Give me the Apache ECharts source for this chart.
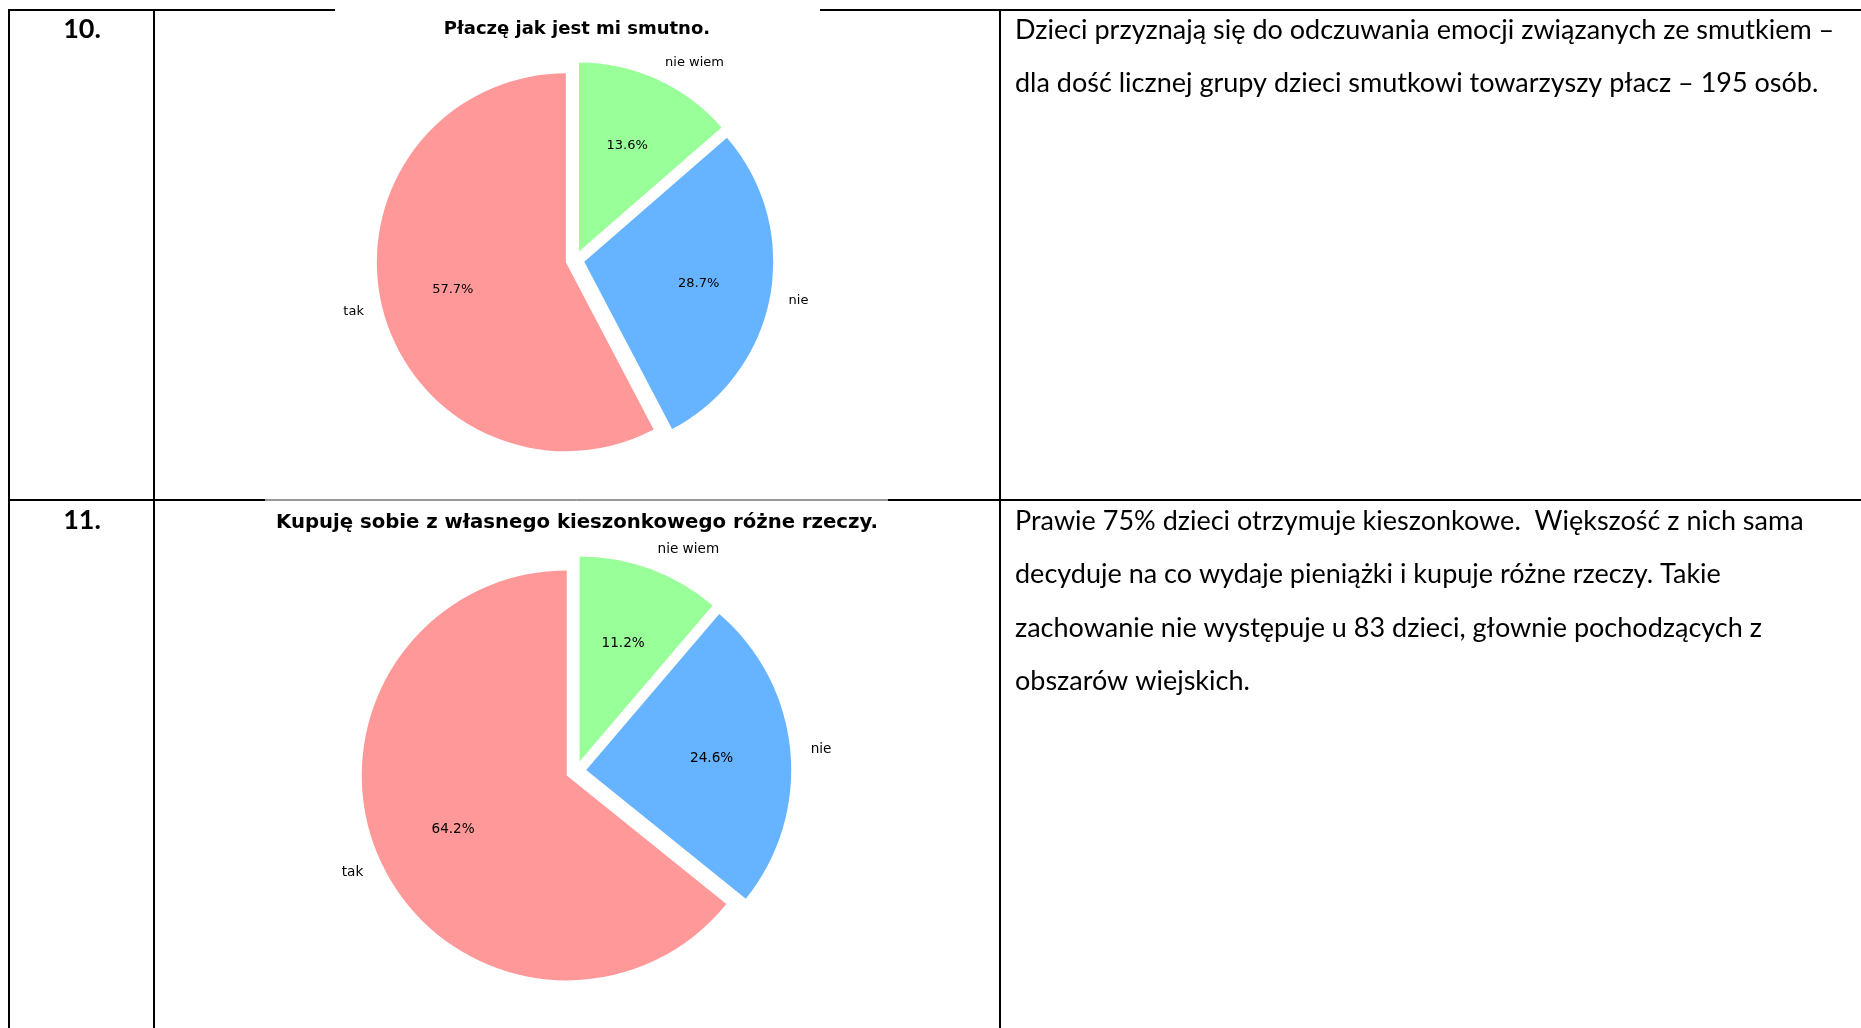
<!DOCTYPE html>
<html>
<head>
<meta charset="utf-8">
<script src="https://cdn.jsdelivr.net/npm/echarts@6/dist/echarts.min.js"></script>
<style>
html,body{margin:0;padding:0;background:#fff;}
#chart{width:1861px;height:1028px;}
</style>
</head>
<body>
<div id="chart"></div>
<script>
// ---- data ----
const categories = ['tak', 'nie', 'nie wiem'];
const colors = ['#ff9999', '#66b3ff', '#99ff99'];
const q10Counts = [195, 97, 46];
const q11Counts = [217, 83, 38];
const rowNumbers = ['10.', '11.'];
const chartTitles = ['Płaczę jak jest mi smutno.', 'Kupuję sobie z własnego kieszonkowego różne rzeczy.'];
const row1Text = [
  'Dzieci przyznają się do odczuwania emocji związanych ze smutkiem –',
  'dla dość licznej grupy dzieci smutkowi towarzyszy płacz – 195 osób.'
];
const row2Text = [
  'Prawie 75% dzieci otrzymuje kieszonkowe.  Większość z nich sama',
  'decyduje na co wydaje pieniążki i kupuje różne rzeczy. Takie',
  'zachowanie nie występuje u 83 dzieci, głownie pochodzących z',
  'obszarów wiejskich.'
];

// ---- layout ----
const EXPLODE = 0.05;
const pies = [
  {counts: q10Counts, center: [575, 260], r: 189, fs: 13, title: chartTitles[0], titleX: 572, titleY: 26, titleFs: 18},
  {counts: q11Counts, center: [576, 771], r: 205, fs: 13.6, title: chartTitles[1], titleX: 572, titleY: 520, titleFs: 19.7}
];

function makeData(counts) {
  return categories.map((c, i) => ({
    name: c, value: counts[i], selected: true,
    itemStyle: {color: colors[i]}
  }));
}

const series = [];
pies.forEach(p => {
  const common = {
    type: 'pie', center: p.center, startAngle: 90, clockwise: false,
    selectedMode: 'multiple', selectedOffset: p.r * EXPLODE,
    avoidLabelOverlap: false, silent: true, animation: false,
    emphasis: {disabled: true}, percentPrecision: 1
  };
  series.push(Object.assign({}, common, {
    radius: [0, p.r],
    data: makeData(p.counts),
    label: {show: true, position: 'outside', formatter: '{b}', fontFamily: 'DejaVu Sans',
            fontSize: p.fs, color: '#000', distanceToLabelLine: 0},
    labelLine: {show: false, length: p.r * 0.1, length2: 0}
  }));
  series.push(Object.assign({}, common, {
    radius: [p.r * 0.2, p.r],
    data: makeData(p.counts).map(d => Object.assign(d, {itemStyle: {color: 'rgba(0,0,0,0)'}})),
    label: {show: true, position: 'inside', formatter: '{d}%', fontFamily: 'DejaVu Sans',
            fontSize: p.fs, color: '#000'},
    labelLine: {show: false}
  }));
});

const titles = pies.map(p => ({
  text: p.title, left: p.titleX, top: p.titleY - p.titleFs * 0.6, textAlign: 'center',
  textStyle: {fontFamily: 'DejaVu Sans', fontWeight: 'bold', fontSize: p.titleFs, color: '#000'}
}));

const LW = 2;
function hline(x1, x2, y, w, c) { return {type: 'line', shape: {x1, y1: y, x2, y2: y}, style: {stroke: c || '#000', lineWidth: w || LW}, z: 10}; }
function vline(x, y1, y2) { return {type: 'line', shape: {x1: x, y1, x2: x, y2}, style: {stroke: '#000', lineWidth: LW}, z: 10}; }

const textFont = '27px Lato';
const numFont = 'bold 27px Lato';
const graphics = [
  hline(8, 335, 10), hline(820, 1861, 10),
  hline(8, 265, 500), hline(265, 888, 500, 1, '#333'), hline(888, 1861, 500),
  vline(9, 9, 1028), vline(154, 9, 1028), vline(1000, 9, 1028),
  {type: 'text', style: {text: rowNumbers[0], x: 82, y: 29, align: 'center', verticalAlign: 'middle', font: numFont, fill: '#000'}},
  {type: 'text', style: {text: rowNumbers[1], x: 82, y: 520, align: 'center', verticalAlign: 'middle', font: numFont, fill: '#000'}}
];
row1Text.forEach((t, i) => graphics.push({type: 'text', style: {text: t, x: 1015, y: 30 + i * 53.5, verticalAlign: 'middle', font: textFont, fill: '#000'}}));
row2Text.forEach((t, i) => graphics.push({type: 'text', style: {text: t, x: 1015, y: 521 + i * 53.5, verticalAlign: 'middle', font: textFont, fill: '#000'}}));

const chart = echarts.init(document.getElementById('chart'), null, {renderer: 'canvas'});
chart.setOption({
  backgroundColor: '#fff',
  animation: false,
  title: titles,
  series: series,
  graphic: graphics
});
</script>
</body>
</html>
